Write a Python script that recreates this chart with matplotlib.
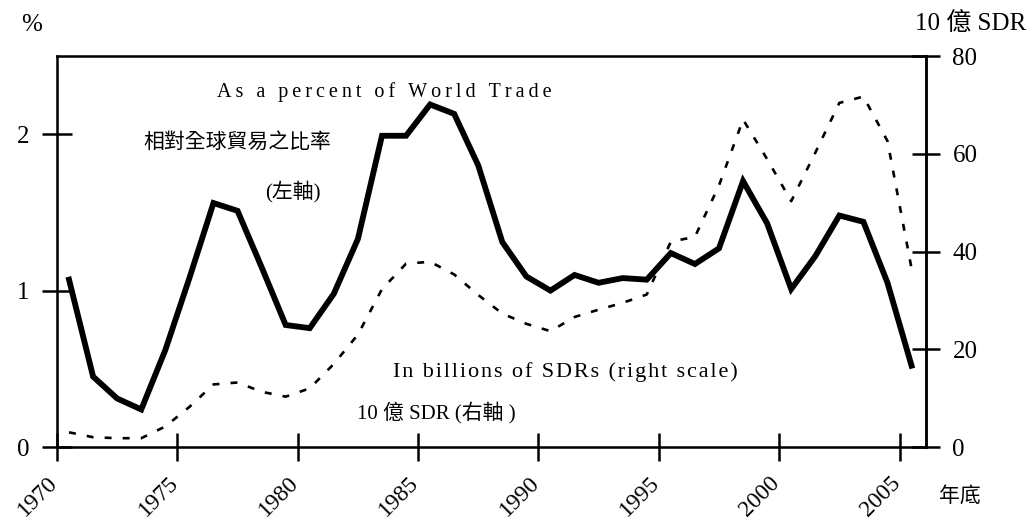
import matplotlib
matplotlib.use("Agg")
import matplotlib.pyplot as plt
import matplotlib.transforms as mtransforms
import numpy as np

# --- data (annual values, plotted at mid-year) ---
years = np.arange(1970, 2006) + 0.5

pct_world_trade = [
    1.07, 0.45, 0.31, 0.24, 0.62, 1.08, 1.56, 1.51, 1.15, 0.78,
    0.76, 0.98, 1.33, 1.99, 1.99, 2.19, 2.13, 1.80, 1.31, 1.09,
    1.00, 1.10, 1.05, 1.08, 1.07, 1.24, 1.17, 1.27, 1.70, 1.43,
    1.01, 1.22, 1.48, 1.44, 1.05, 0.52,
]

sdr_billions = [
    3.0, 2.0, 1.8, 1.8, 4.2, 8.2, 12.8, 13.2, 11.3, 10.3,
    12.0, 17.0, 23.0, 32.3, 37.5, 37.9, 35.3, 31.1, 27.3, 25.2,
    23.7, 26.6, 28.1, 29.5, 31.2, 42.0, 43.0, 53.5, 67.0, 58.9,
    50.3, 60.2, 70.4, 71.7, 62.6, 36.5,
]

x_ticks = [1970, 1975, 1980, 1985, 1990, 1995, 2000, 2005]
left_ticks = [0, 1, 2]
right_ticks = [0, 20, 40, 60, 80]

FONT = ["Liberation Serif", "Noto Sans CJK TC", "DejaVu Sans"]
plt.rcParams["font.family"] = FONT
plt.rcParams["lines.scale_dashes"] = False


def spaced(s, sep):
    # the original labels are typeset with wide letter spacing
    return sep.join(s)


fig = plt.figure(figsize=(10.33, 5.24), dpi=100)
ax = fig.add_axes([57 / 1033, 1 - 447 / 524, (926 - 57) / 1033, (447 - 56) / 524])
ax2 = ax.twinx()

ax.plot(years, pct_world_trade, color="black", lw=4.2, solid_joinstyle="miter")
ax2.plot(years, sdr_billions, color="black", lw=1.9, dashes=(5, 8))

ax.set_xlim(1970, 2006.1)
ax.set_ylim(0, 2.5)
ax2.set_ylim(0, 80)

ax.set_xticks(x_ticks)
ax.set_xticklabels([str(y) for y in x_ticks], rotation=45, ha="right", va="top")
ax.set_yticks(left_ticks)
ax2.set_yticks(right_ticks)

for s in ax.spines.values():
    s.set_linewidth(1.8)
ax2.spines["right"].set_linewidth(1.8)

ax.tick_params(axis="x", direction="inout", length=20, width=1.8, labelsize=17, pad=8)
ax.tick_params(axis="y", direction="inout", length=22, width=1.8, labelsize=18, pad=9)
ax2.tick_params(axis="y", direction="inout", length=20, width=1.8, labelsize=18, pad=9)

# nudge rotated year labels so their ends sit under the ticks
shift = mtransforms.ScaledTranslation(5 / 100, 0, fig.dpi_scale_trans)
for lbl in ax.get_xticklabels():
    lbl.set_transform(lbl.get_transform() + shift)

# --- annotations ---
fig.text(32 / 1033, 1 - 25 / 524, "%", fontsize=18, ha="center", va="center")
fig.text(1026 / 1033, 1 - 24 / 524, "10 億 SDR", fontsize=18, ha="right", va="center")
fig.text(960 / 1033, 1 - 497 / 524, "年底", fontsize=15, ha="center", va="center")

fig.text(384 / 1033, 1 - 92 / 524, spaced("As a percent of World Trade", "\u2009"),
         fontsize=14.5, ha="center", va="center")
fig.text(237 / 1033, 1 - 143 / 524, "相對全球貿易之比率", fontsize=15,
         ha="center", va="center")
fig.text(293 / 1033, 1 - 192 / 524, "(左軸)", fontsize=15, ha="center", va="center")
fig.text(565 / 1033, 1 - 372 / 524, spaced("In billions of SDRs (right scale)", "\u200a"),
         fontsize=16, ha="center", va="center")
fig.text(436 / 1033, 1 - 413 / 524, "10 億 SDR (右軸 )", fontsize=15,
         ha="center", va="center")

fig.savefig("out.png", dpi=100)
